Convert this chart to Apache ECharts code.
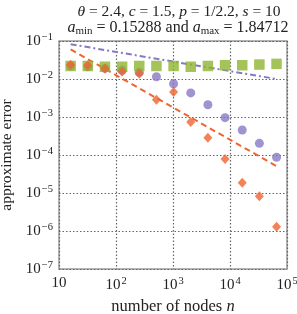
<!DOCTYPE html>
<html><head><meta charset="utf-8">
<script src="https://cdn.jsdelivr.net/npm/echarts@6/dist/echarts.min.js"></script>
<style>html,body{margin:0;padding:0;background:#fff}#c{width:297px;height:314px}</style>
</head><body><div id="c"></div>
<script>
const nodes = [16,32,64,128,256,512,1024,2048,4096,8192,16384,32768,65536];
const purpleVals = [0.022,0.021,0.019,0.017,0.015,0.0115,0.0075,0.0043,0.0021,0.00096,0.000455,0.000203,0.000087];
const greenVals = [0.022,0.022,0.021,0.021,0.022,0.022,0.022,0.021,0.022,0.023,0.023,0.024,0.025];
const orangeVals = [0.0238,0.0229,0.0187,0.0156,0.0138,0.00285,0.00455,0.00074,0.000285,0.0000785,0.0000187,0.0000082,0.0000013];
const purpleRefX = [16,65536];
const purpleRefY = [0.082,0.0100];
const orangeRefX = [16,65536];
const orangeRefY = [0.060,0.000051];
const xTicks = [10,100,1000,10000,100000];
const yTicks = [1e-1,1e-2,1e-3,1e-4,1e-5,1e-6,1e-7];

const FONT = '"Liberation Serif", "DejaVu Serif", serif';
const pair = (xs, ys) => xs.map((x,i)=>[x, ys[i]]);

function expLabel(v){
  const e = Math.round(Math.log10(v));
  if (e === 1) return '{b|10}';
  const s = e < 0 ? '\u2212' + (-e) : '' + e;
  return '{b|10}{s|' + s + '}';
}
const rich = {
  b:{fontFamily:FONT,fontSize:15,color:'#222'},
  s:{fontFamily:FONT,fontSize:10.5,color:'#222',verticalAlign:'top',padding:[0,0,8,1]}
};

const chart = echarts.init(document.getElementById('c'), null, {renderer:'canvas'});
chart.setOption({
  animation:false,
  backgroundColor:'#fff',
  grid:{left:59,right:10,top:41,bottom:45,show:true,borderColor:'#9a9a9a',borderWidth:1.5,
        outerBoundsMode:'none',containLabel:false},
  graphic:[
    {type:'text',x:179,y:12,style:{
      text:'{i|θ} = 2.4, {i|c} = 1.5, {i|p} = 1/2.2, {i|s} = 10',
      textAlign:'center',textVerticalAlign:'middle',
      rich:{i:{fontStyle:'italic',fontFamily:FONT,fontSize:15.5,fill:'#222'}},
      font:'15.5px '+FONT, fill:'#222'}},
    {type:'text',x:178,y:28,style:{
      text:'{i|a}{sub|min} = 0.15288 and {i|a}{sub|max} = 1.84712',
      textAlign:'center',textVerticalAlign:'middle',
      rich:{i:{fontStyle:'italic',fontFamily:FONT,fontSize:16,fill:'#222'},
            sub:{fontFamily:FONT,fontSize:11,fill:'#222',verticalAlign:'bottom',padding:[7,0,0,0]}},
      font:'16px '+FONT, fill:'#222'}}
  ],
  xAxis:{
    type:'log',logBase:10,min:10,max:100000,
    name:'number of nodes {i|n}',nameLocation:'middle',nameGap:29,
    nameTextStyle:{fontFamily:FONT,fontSize:16.5,color:'#222',rich:{i:{fontStyle:'italic',fontFamily:FONT,fontSize:16.5,color:'#222'}}},
    axisLine:{show:false},
    axisTick:{show:false},
    minorTick:{show:false},
    splitLine:{show:true,lineStyle:{type:[1.5,2],color:'#666',width:1.2}},
    axisLabel:{margin:7,formatter:expLabel,rich:rich}
  },
  yAxis:{
    type:'log',logBase:10,min:1e-7,max:1e-1,
    name:'approximate error',nameLocation:'middle',nameGap:39,
    nameTextStyle:{fontFamily:FONT,fontSize:15.5,color:'#222'},
    axisLine:{show:false},
    axisTick:{show:false},
    splitLine:{show:true,lineStyle:{type:[1.5,2],color:'#666',width:1.2}},
    axisLabel:{margin:6,formatter:expLabel,rich:rich}
  },
  series:[
    {type:'line',data:pair(purpleRefX,purpleRefY),symbol:'none',
     lineStyle:{color:'#8878c4',width:2,type:[6,3,2,3]},z:2},
    {type:'line',data:pair(orangeRefX,orangeRefY),symbol:'none',
     lineStyle:{color:'#ef6430',width:2,type:[6,4]},z:2},
    {type:'scatter',data:pair(nodes,purpleVals),symbol:'circle',symbolSize:9,
     itemStyle:{color:'#8878c4'},z:3},
    {type:'scatter',data:pair(nodes,greenVals),symbol:'rect',symbolSize:10.5,
     itemStyle:{color:'#8db530'},z:4},
    {type:'scatter',data:pair(nodes,orangeVals),symbol:'diamond',symbolSize:[9,10],
     itemStyle:{color:'#ef6430'},z:5}
  ]
});
</script></body></html>
